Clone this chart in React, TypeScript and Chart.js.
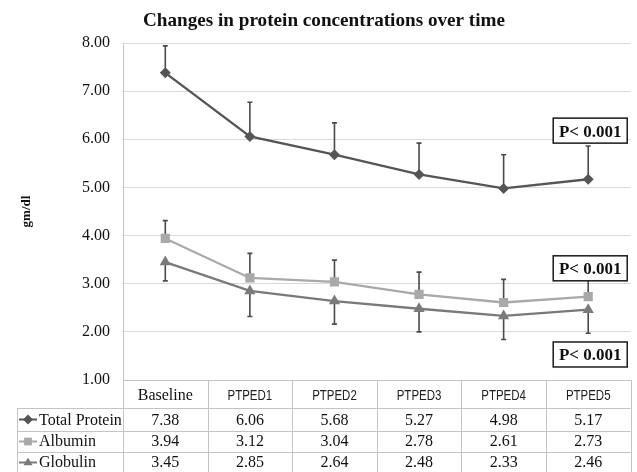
import React, { useEffect, useRef } from "react";
import { Chart, registerables } from "chart.js";

Chart.register(...registerables);

const titleText = "Changes in protein concentrations over time";
const yAxisLabel = "gm/dl";
const categories = ["Baseline", "PTPED1", "PTPED2", "PTPED3", "PTPED4", "PTPED5"];
const seriesNames = ["Total Protein", "Albumin", "Globulin"];
const totalProtein = [7.38, 6.06, 5.68, 5.27, 4.98, 5.17];
const albumin = [3.94, 3.12, 3.04, 2.78, 2.61, 2.73];
const globulin = [3.45, 2.85, 2.64, 2.48, 2.33, 2.46];
const totalProteinSD = [0.56, 0.71, 0.66, 0.65, 0.7, 0.69];
const albuminSD = [0.37, 0.51, 0.45, 0.46, 0.48, 0.46];
const globulinSD = [0.39, 0.53, 0.48, 0.48, 0.49, 0.49];
const errorDirection = [1, 1, -1];
const yMin = 1;
const yMax = 8;
const yStep = 1;
const pLabels = ["P< 0.001", "P< 0.001", "P< 0.001"];
const pLabelLevels = [6.18, 3.32, 1.53];

const seriesValues = [totalProtein, albumin, globulin];
const seriesSD = [totalProteinSD, albuminSD, globulinSD];
const seriesColors = ["#555555", "#a9a9a9", "#7a7a7a"];
const seriesMarkers = ["rectRot", "rect", "triangle"];
const seriesMarkerRadius = [5.5, 6.5, 6.5];

const SERIF = '"Liberation Serif", "Times New Roman", serif';
const SANS = '"Liberation Sans", Arial, sans-serif';

function drawScaledText(
  ctx: CanvasRenderingContext2D,
  text: string,
  x: number,
  y: number,
  font: string,
  sx: number,
  align: "left" | "center" | "right",
  color = "#111"
) {
  ctx.save();
  ctx.font = font;
  ctx.fillStyle = color;
  ctx.textBaseline = "alphabetic";
  ctx.textAlign = align;
  ctx.translate(x, y);
  ctx.scale(sx, 1);
  ctx.fillText(text, 0, 0);
  ctx.restore();
}

function drawMarker(ctx: CanvasRenderingContext2D, style: string, x: number, y: number, r: number, color: string) {
  ctx.save();
  ctx.fillStyle = color;
  ctx.beginPath();
  if (style === "rectRot") {
    ctx.moveTo(x, y - r);
    ctx.lineTo(x + r, y);
    ctx.lineTo(x, y + r);
    ctx.lineTo(x - r, y);
  } else if (style === "rect") {
    const s = r * Math.SQRT1_2;
    ctx.rect(x - s, y - s, 2 * s, 2 * s);
  } else {
    ctx.moveTo(x, y - r);
    ctx.lineTo(x + r * 0.9, y + r * 0.55);
    ctx.lineTo(x - r * 0.9, y + r * 0.55);
  }
  ctx.closePath();
  ctx.fill();
  ctx.restore();
}

const errorBarPlugin = {
  id: "errorBars",
  beforeDatasetsDraw(chart: any) {
    const ctx = chart.ctx as CanvasRenderingContext2D;
    const x = chart.scales.x;
    const y = chart.scales.y;
    ctx.save();
    ctx.strokeStyle = "#4a4a4a";
    ctx.lineWidth = 1.6;
    seriesValues.forEach((vals, si) => {
      vals.forEach((v, i) => {
        const px = x.getPixelForValue(i);
        const py0 = y.getPixelForValue(v);
        const py1 = y.getPixelForValue(v + errorDirection[si] * seriesSD[si][i]);
        ctx.beginPath();
        ctx.moveTo(px, py0);
        ctx.lineTo(px, py1);
        ctx.moveTo(px - 2.5, py1);
        ctx.lineTo(px + 2.5, py1);
        ctx.stroke();
      });
    });
    ctx.restore();
  },
};

const decorPlugin = {
  id: "decor",
  afterDraw(chart: any) {
    const ctx = chart.ctx as CanvasRenderingContext2D;
    const area = chart.chartArea;
    const x = chart.scales.x;
    const y = chart.scales.y;

    // Title
    ctx.save();
    ctx.font = `bold 19px ${SERIF}`;
    const tw = ctx.measureText(titleText).width;
    ctx.restore();
    drawScaledText(ctx, titleText, 324, 26, `bold 19px ${SERIF}`, 362 / tw, "center", "#111");

    // Y axis title
    ctx.save();
    ctx.translate(27, (area.top + area.bottom) / 2);
    ctx.rotate(-Math.PI / 2);
    ctx.font = `bold 13px ${SERIF}`;
    ctx.fillStyle = "#111";
    ctx.textAlign = "center";
    ctx.textBaseline = "middle";
    ctx.fillText(yAxisLabel, 0, 0);
    ctx.restore();

    // P-value boxes
    const lastX = x.getPixelForValue(categories.length - 1) + 2;
    pLabels.forEach((label, i) => {
      const cy = y.getPixelForValue(pLabelLevels[i]);
      const w = 74;
      const h = 25;
      ctx.save();
      ctx.fillStyle = "#ffffff";
      ctx.fillRect(lastX - w / 2, cy - h / 2, w, h);
      ctx.strokeStyle = "#1a1a1a";
      ctx.lineWidth = 1.5;
      ctx.strokeRect(lastX - w / 2, cy - h / 2, w, h);
      ctx.restore();
      drawScaledText(ctx, label, lastX, cy + 6, `bold 17px ${SERIF}`, 1, "center", "#111");
    });

    // Data table
    const colW = (area.right - area.left) / categories.length;
    const headerTop = area.bottom;
    const rowEdges = [headerTop + 28, headerTop + 51, headerTop + 72, headerTop + 93];
    const labelLeft = 17;
    ctx.save();
    ctx.strokeStyle = "#c4c4c4";
    ctx.lineWidth = 1;
    ctx.beginPath();
    for (let i = 0; i <= categories.length; i++) {
      const vx = Math.round(area.left + i * colW) + 0.5;
      ctx.moveTo(vx, headerTop);
      ctx.lineTo(vx, rowEdges[3]);
    }
    ctx.moveTo(labelLeft + 0.5, rowEdges[0]);
    ctx.lineTo(labelLeft + 0.5, rowEdges[3]);
    ctx.moveTo(area.left, headerTop + 0.5);
    ctx.lineTo(area.right, headerTop + 0.5);
    for (let r = 0; r < 3; r++) {
      const hy = Math.round(rowEdges[r]) + 0.5;
      ctx.moveTo(labelLeft, hy);
      ctx.lineTo(area.right, hy);
    }
    ctx.stroke();
    ctx.restore();

    // Header text
    categories.forEach((c, i) => {
      const cx = x.getPixelForValue(i);
      if (i === 0) {
        drawScaledText(ctx, c, cx, headerTop + 20, `16px ${SERIF}`, 1, "center", "#111");
      } else {
        drawScaledText(ctx, c, cx, headerTop + 20, `14px ${SANS}`, 0.82, "center", "#222");
      }
    });

    // Rows
    seriesNames.forEach((name, si) => {
      const rowBottom = rowEdges[si + 1];
      const base = rowBottom - 6;
      const mid = (rowEdges[si] + rowBottom) / 2;
      ctx.save();
      ctx.strokeStyle = seriesColors[si];
      ctx.lineWidth = 2;
      ctx.beginPath();
      ctx.moveTo(19, mid);
      ctx.lineTo(37, mid);
      ctx.stroke();
      ctx.restore();
      drawMarker(ctx, seriesMarkers[si], 28, mid, si === 1 ? 5.5 : 5, seriesColors[si]);
      drawScaledText(ctx, name, 39, base, `16px ${SERIF}`, 1, "left", "#111");
      seriesValues[si].forEach((v, i) => {
        drawScaledText(ctx, v.toFixed(2), x.getPixelForValue(i), base, `16px ${SERIF}`, 1, "center", "#111");
      });
    });
  },
};

export default function App() {
  const canvasRef = useRef<HTMLCanvasElement | null>(null);

  useEffect(() => {
    document.body.style.margin = "0";
    const canvas = canvasRef.current;
    if (!canvas) return;
    const chart = new Chart(canvas, {
      type: "line",
      data: {
        labels: categories,
        datasets: seriesNames.map((name, si) => ({
          label: name,
          data: seriesValues[si],
          borderColor: seriesColors[si],
          backgroundColor: seriesColors[si],
          pointBackgroundColor: seriesColors[si],
          pointBorderColor: seriesColors[si],
          pointStyle: seriesMarkers[si] as any,
          pointRadius: seriesMarkerRadius[si],
          pointBorderWidth: 0,
          borderWidth: 2.3,
          tension: 0,
          fill: false,
        })),
      },
      options: {
        animation: false,
        responsive: false,
        maintainAspectRatio: false,
        layout: { padding: { top: 43, right: 4, bottom: 92, left: 0 } },
        plugins: {
          legend: { display: false },
          title: { display: false },
          tooltip: { enabled: false },
        },
        scales: {
          x: {
            type: "category",
            display: false,
            offset: true,
          },
          y: {
            min: yMin,
            max: yMax,
            afterFit: (scale: any) => {
              scale.width = 123;
            },
            ticks: {
              stepSize: yStep,
              padding: 13,
              color: "#111",
              font: { family: SERIF, size: 16 },
              callback: (v: any) => Number(v).toFixed(2),
            },
            grid: { color: "#d9d9d9", lineWidth: 1, drawTicks: false },
            border: { color: "#c4c4c4", width: 1 },
          },
        },
      },
      plugins: [errorBarPlugin, decorPlugin],
    });
    return () => chart.destroy();
  }, []);

  return (
    <div style={{ width: 637, height: 472, background: "#fff" }}>
      <canvas ref={canvasRef} width={637} height={472} style={{ display: "block", width: 637, height: 472 }} />
    </div>
  );
}
